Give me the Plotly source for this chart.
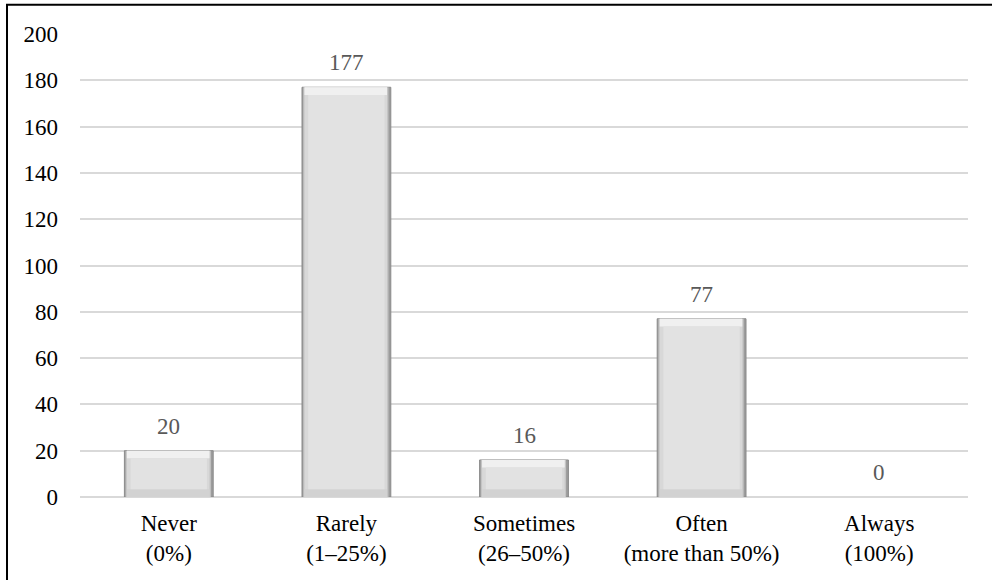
import plotly.graph_objects as go

# Survey answer categories and response counts
categories = ["Never<br>(0%)", "Rarely<br>(1–25%)", "Sometimes<br>(26–50%)",
              "Often<br>(more than 50%)", "Always<br>(100%)"]
counts = [20, 177, 16, 77, 0]
y_ticks = [0, 20, 40, 60, 80, 100, 120, 140, 160, 180, 200]

FONT = "Liberation Serif"
BEVEL = 3.3  # depth of the bevelled rim, in axis units

fig = go.Figure()


def add_layer(width, color, base=None, heights=None, line=None, offset=None):
    fig.add_trace(go.Bar(
        x=categories, y=heights if heights is not None else counts,
        base=base, width=width, offset=offset,
        marker=dict(color=color, line=line or dict(width=0)),
        hoverinfo="skip", showlegend=False,
    ))


# Side rims: dark outer edge (no outline on empty bars)
edge_widths = [1 if v > 0 else 0 for v in counts]
add_layer(0.50, "#9c9c9c", line=dict(color="#8a8a8a", width=edge_widths))
add_layer(0.48, "#c4c4c4", offset=-0.243)
add_layer(0.465, "#d8d8d8", offset=-0.236)
# Lower bevel band, slightly shaded
add_layer(0.465, "#d2d2d2", offset=-0.236,
          heights=[BEVEL if v > 2 * BEVEL else 0 for v in counts])
# Light top bevel strip
add_layer(0.465, "#f0f0f0", offset=-0.236,
          base=[max(v - BEVEL, 0) for v in counts],
          heights=[BEVEL if v > 2 * BEVEL else 0 for v in counts])
# Flat bar face
add_layer(0.43, "#e2e2e2",
          base=[BEVEL if v > 2 * BEVEL else 0 for v in counts],
          heights=[max(v - 2 * BEVEL, 0) for v in counts])

# Value labels above each bar
for c, v in zip(categories, counts):
    fig.add_annotation(x=c, y=v, text=str(v), showarrow=False,
                       yanchor="bottom", yshift=10,
                       font=dict(family=FONT, size=23, color="#595959"))

fig.update_layout(
    width=992, height=580,
    margin=dict(l=80, r=24, t=34, b=83),
    paper_bgcolor="white", plot_bgcolor="white",
    barmode="overlay",
    font=dict(family=FONT, size=23, color="black"),
    xaxis=dict(showgrid=False, showline=False, ticks="",
               ticklabelstandoff=10,
               tickfont=dict(family=FONT, size=23, color="black")),
    yaxis=dict(range=[0, 200], tickvals=y_ticks, showgrid=True,
               gridcolor="#d9d9d9", gridwidth=1.5, zeroline=True,
               zerolinecolor="#d9d9d9", zerolinewidth=1.5,
               showline=False, ticks="", ticklabelstandoff=21,
               tickfont=dict(family=FONT, size=23, color="black")),
    shapes=[dict(type="rect", xref="paper", yref="paper",
                 x0=-0.0822, x1=1.1, y0=-0.5, y1=1.063,
                 line=dict(color="black", width=2), layer="above")],
)

fig.write_html("out.html")
